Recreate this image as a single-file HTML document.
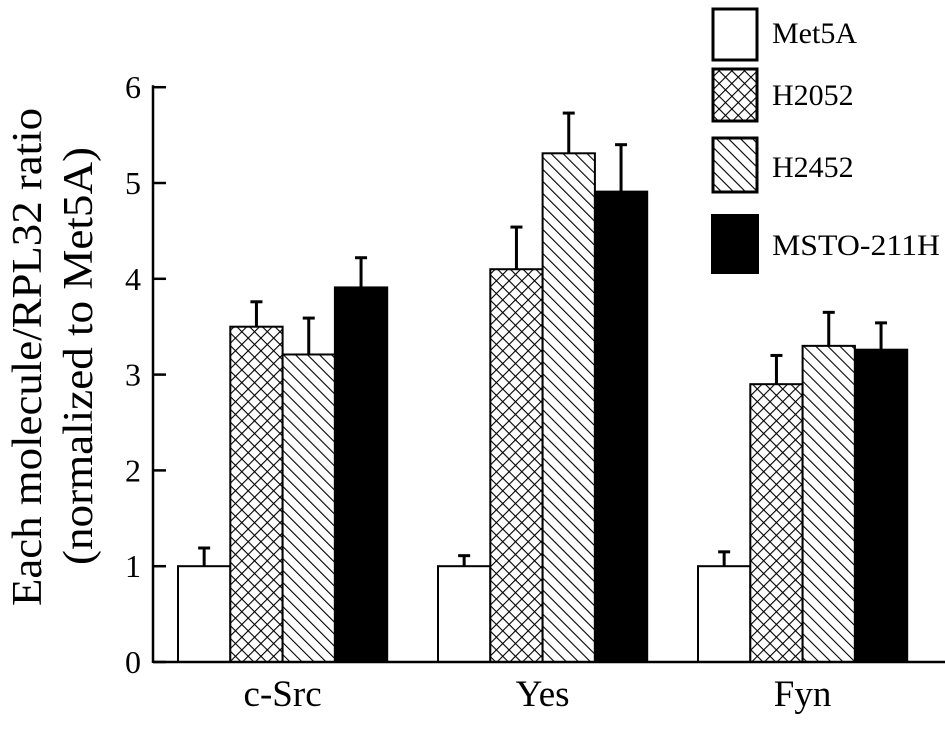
<!DOCTYPE html>
<html><head><meta charset="utf-8"><style>
body{margin:0;background:#fff;}
svg text{font-family:"Liberation Serif",serif;fill:#000;}
</style></head><body>
<svg id="chart" width="945" height="724" viewBox="0 0 945 724">
<defs>
<pattern id="cross" width="9" height="9" patternUnits="userSpaceOnUse" patternTransform="rotate(45)">
<rect width="9" height="9" fill="#fff"/>
<line x1="0" y1="0" x2="0" y2="9" stroke="#000" stroke-width="2.2"/>
<line x1="0" y1="0" x2="9" y2="0" stroke="#000" stroke-width="2.2"/>
</pattern>
<pattern id="diag" width="8.5" height="8.5" patternUnits="userSpaceOnUse" patternTransform="rotate(-45)">
<rect width="8.5" height="8.5" fill="#fff"/>
<line x1="0" y1="0" x2="0" y2="8.5" stroke="#000" stroke-width="2.2"/>
</pattern>
</defs>
<g id="plot"></g>
<text x="41" y="357" font-size="42" text-anchor="middle" textLength="498" lengthAdjust="spacingAndGlyphs" transform="rotate(-90 41 357)">Each molecule/RPL32 ratio</text>
<text x="92" y="356" font-size="42" text-anchor="middle" textLength="418" lengthAdjust="spacingAndGlyphs" transform="rotate(-90 92 356)">(normalized to Met5A)</text>
<g>
<rect x="713" y="9" width="44" height="51" fill="#fff" stroke="#000" stroke-width="3"/>
<text x="772" y="43" font-size="30">Met5A</text>
<rect x="713" y="69" width="44" height="52" fill="url(#cross)" stroke="#000" stroke-width="3"/>
<text x="772" y="105" font-size="30">H2052</text>
<rect x="713" y="138" width="44" height="54" fill="url(#diag)" stroke="#000" stroke-width="3"/>
<text x="772" y="177" font-size="30">H2452</text>
<rect x="711" y="214" width="48" height="60" fill="#000"/>
<text x="772" y="255" font-size="30" textLength="168" lengthAdjust="spacingAndGlyphs">MSTO-211H</text>
</g>
</svg>
<script>
const categories = ["c-Src", "Yes", "Fyn"];
const met5a = [1.0, 1.0, 1.0];
const met5aErr = [0.19, 0.11, 0.15];
const h2052 = [3.5, 4.1, 2.9];
const h2052Err = [0.26, 0.44, 0.3];
const h2452 = [3.21, 5.31, 3.3];
const h2452Err = [0.38, 0.42, 0.35];
const msto = [3.91, 4.91, 3.26];
const mstoErr = [0.31, 0.49, 0.28];
const yTicks = [0, 1, 2, 3, 4, 5, 6];

const NS = "http://www.w3.org/2000/svg";
const g = document.getElementById("plot");
const y0 = 662, pxPerUnit = 95.8, axisX = 153;
function yScale(v){ return y0 - v * pxPerUnit; }
function groupStart(i){ return 178 + i * 260; }
const barW = 52.3;
function mk(tag, attrs){ const e = document.createElementNS(NS, tag); for (const k in attrs) e.setAttribute(k, attrs[k]); g.appendChild(e); return e; }

const series = [
  {vals: met5a, errs: met5aErr, fill: "#fff", key: "met5a"},
  {vals: h2052, errs: h2052Err, fill: "url(#cross)", key: "h2052"},
  {vals: h2452, errs: h2452Err, fill: "url(#diag)", key: "h2452"},
  {vals: msto, errs: mstoErr, fill: "#000", key: "msto"}
];
categories.forEach((c, i) => {
  series.forEach((s, j) => {
    const x = groupStart(i) + j * barW;
    const top = yScale(s.vals[i]);
    const cx = x + barW / 2;
    const et = yScale(s.vals[i] + s.errs[i]);
    const el = mk("line", {x1: cx, y1: top, x2: cx, y2: et, stroke: "#000", "stroke-width": 3});
    
    
    const cap = mk("line", {x1: cx - 6, y1: et, x2: cx + 6, y2: et, stroke: "#000", "stroke-width": 3});
    
    
    const r = mk("rect", {x: x, y: top, width: barW, height: y0 - top, fill: s.fill, stroke: "#000", "stroke-width": 2});
    
    
  });
  const t = mk("text", {x: groupStart(i) + 2 * barW, y: 706, "font-size": 37, "text-anchor": "middle"});
  t.textContent = c;
  
  
});
const xa = mk("line", {x1: axisX, y1: y0, x2: 945, y2: y0, stroke: "#000", "stroke-width": 2.5});


const ya = mk("line", {x1: axisX, y1: y0 + 1, x2: axisX, y2: yScale(6) - 2, stroke: "#000", "stroke-width": 2.5});


yTicks.forEach(v => {
  const tk = mk("line", {x1: axisX, y1: yScale(v), x2: axisX + 13, y2: yScale(v), stroke: "#000", "stroke-width": 2.5});
  
  
  const lb = mk("text", {x: 141, y: yScale(v) + 11, "font-size": 32, "text-anchor": "end"});
  lb.textContent = v;
  
  
});
</script>
</body></html>
